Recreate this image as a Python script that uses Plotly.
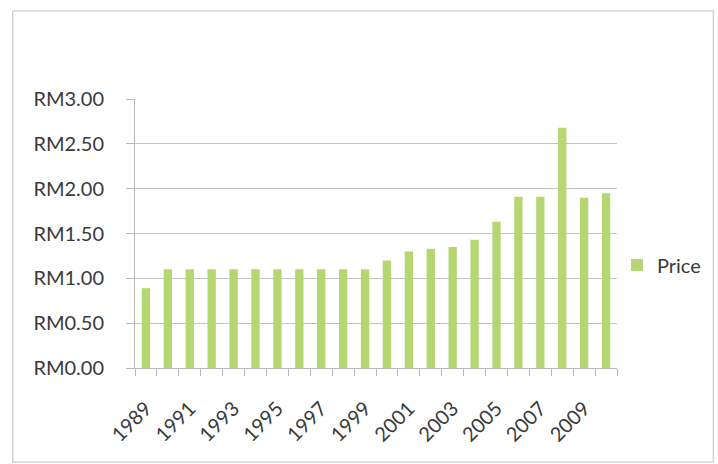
import plotly.graph_objects as go

years = list(range(1989, 2011))
prices = [0.89, 1.10, 1.10, 1.10, 1.10, 1.10, 1.10, 1.10, 1.10, 1.10, 1.10,
          1.20, 1.30, 1.33, 1.35, 1.43, 1.63, 1.91, 1.91, 2.68, 1.90, 1.95]
label_years = [y for y in years if (y - 1989) % 2 == 0]
y_ticks = [0, 0.5, 1.0, 1.5, 2.0, 2.5, 3.0]
y_labels = ["RM0.00", "RM0.50", "RM1.00", "RM1.50", "RM2.00", "RM2.50", "RM3.00"]

font_family = "Lato, 'Open Sans', sans-serif"
text_color = "#3a3a3a"
line_color = "#b8b8b8"

fig = go.Figure()
fig.add_trace(go.Bar(
    x=years, y=prices, name="Price", width=0.38,
    marker=dict(color="#b6d672", line=dict(width=0)),
))

L, R, T, B = 135, 98, 99, 96
W, H = 718, 464
pw = W - L - R
ph = H - T - B

fig.update_layout(
    width=W, height=H,
    margin=dict(l=L, r=R, t=T, b=B, pad=0),
    paper_bgcolor="white", plot_bgcolor="white",
    font=dict(family=font_family, size=20, color=text_color),
    showlegend=True,
    legend=dict(x=(630 - L) / pw, y=(368 - 265) / ph, xanchor="left", yanchor="middle",
                font=dict(size=20, color=text_color), itemwidth=30, indentation=-10,
                borderwidth=0, bgcolor="rgba(0,0,0,0)"),
    xaxis=dict(
        range=[1988.5, 2010.5],
        tickmode="array", tickvals=label_years, ticktext=[str(y) for y in label_years],
        tickangle=-45, ticks="", ticklabelstandoff=20,
        tickfont=dict(size=20),
        showgrid=False, zeroline=False,
        showline=True, linecolor=line_color, linewidth=1,
        minor=dict(tickmode="array", tickvals=[y - 0.5 for y in years] + [2010.5],
                   ticks="outside", ticklen=7, tickcolor=line_color, showgrid=False),
    ),
    yaxis=dict(
        range=[0, 3], tickmode="array", tickvals=y_ticks, ticktext=y_labels,
        ticks="outside", ticklen=8, tickcolor=line_color, ticklabelstandoff=18,
        tickfont=dict(size=20),
        showgrid=True, gridcolor="#c4c4c4", gridwidth=1,
        zeroline=False, showline=True, linecolor=line_color, linewidth=1,
    ),
)

fig.add_shape(type="rect", xref="paper", yref="paper",
              x0=(12 - L) / pw, x1=(717 - L) / pw,
              y0=(368 - 462) / ph, y1=(368 - 11) / ph,
              line=dict(color="#d4d4d4", width=1.5), layer="below")

fig.write_html("out.html")
